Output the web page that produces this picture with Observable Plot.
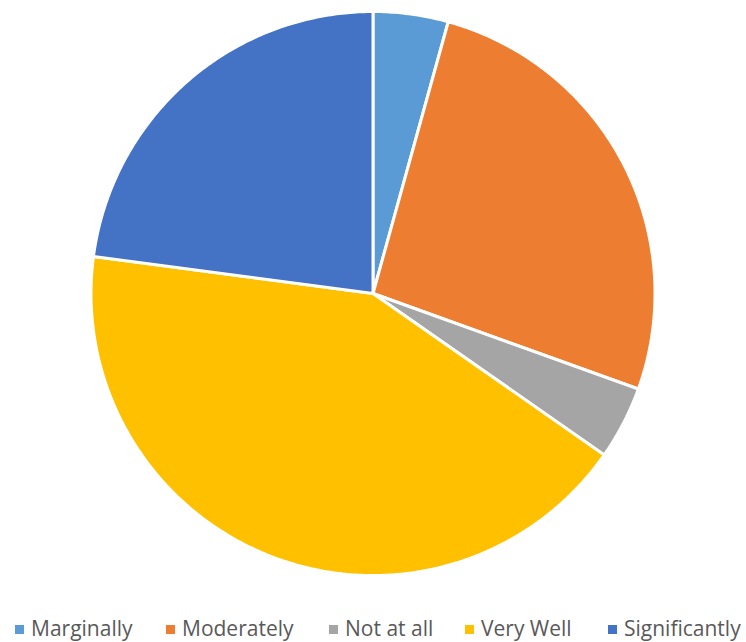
<!DOCTYPE html>
<html>
<head>
<meta charset="utf-8">
<script src="https://cdn.jsdelivr.net/npm/d3@7"></script>
<script src="https://cdn.jsdelivr.net/npm/@observablehq/plot@0.6"></script>
<style>
  html, body { margin: 0; padding: 0; background: #fff; }
  #wrap { position: relative; width: 746px; height: 642px; overflow: hidden; }
  #legend { position: absolute; left: 0; top: 610px; width: 746px; height: 32px; font-family: "Open Sans", Lato, sans-serif; font-size: 21px; color: #595959; }
  .item { position: absolute; top: 5px; line-height: 26px; white-space: nowrap; }
  .sw { position: absolute; width: 9px; height: 9px; }
</style>
</head>
<body>
<div id="wrap"><div id="chart"></div><div id="legend"></div></div>
<script>
const categories = ["Marginally", "Moderately", "Not at all", "Very Well", "Significantly"];
const values = [4.3, 26.2, 4.2, 42.4, 22.9];
const colors = ["#5B9BD5", "#ED7D31", "#A5A5A5", "#FFC000", "#4472C4"];
const legendX = [15, 166, 329, 465, 608];

const arcs = d3.pie().sort(null).value(d => d.value).startAngle(0).endAngle(2 * Math.PI)(
  categories.map((c, i) => ({category: c, value: values[i]}))
);
const pts = [];
for (const a of arcs) {
  const n = Math.max(2, Math.ceil((a.endAngle - a.startAngle) / 0.01));
  pts.push({category: a.data.category, x: 0, y: 0});
  for (let k = 0; k <= n; k++) {
    const t = a.startAngle + (a.endAngle - a.startAngle) * k / n;
    pts.push({category: a.data.category, x: Math.sin(t), y: Math.cos(t)});
  }
}

const chart = Plot.plot({
  width: 746,
  height: 610,
  marginLeft: 90.5,
  marginRight: 91.5,
  marginTop: 11,
  marginBottom: 35,
  x: {domain: [-1, 1], axis: null},
  y: {domain: [-1, 1], axis: null},
  color: {domain: categories, range: colors},
  marks: [
    Plot.line(pts, {x: "x", y: "y", z: "category", fill: "category", stroke: "white", strokeWidth: 3, strokeLinejoin: "miter", curve: "linear-closed"})
  ]
});
document.getElementById("chart").appendChild(chart);

const legend = document.getElementById("legend");
categories.forEach((c, i) => {
  const sw = document.createElement("div");
  sw.className = "sw";
  sw.style.left = legendX[i] + "px";
  sw.style.top = "15px";
  sw.style.background = colors[i];
  legend.appendChild(sw);
  const t = document.createElement("div");
  t.className = "item";
  t.style.left = (legendX[i] + 16) + "px";
  t.textContent = c;
  legend.appendChild(t);
});
</script>
</body>
</html>
